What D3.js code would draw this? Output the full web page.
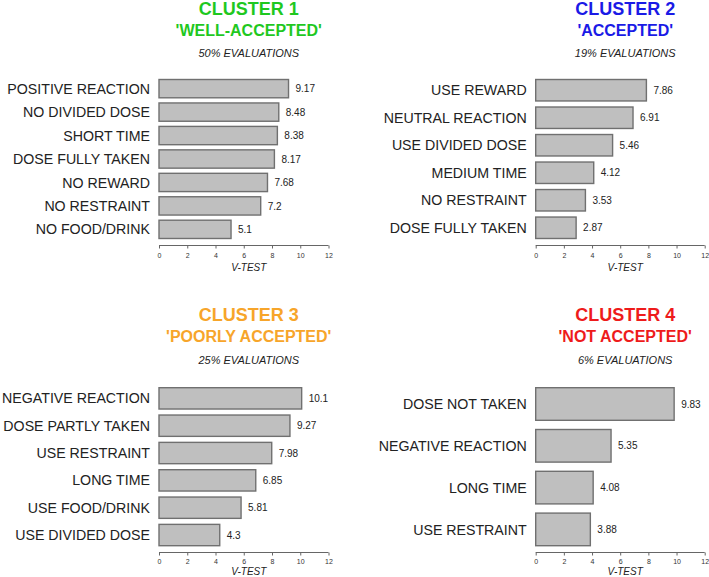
<!DOCTYPE html>
<html>
<head>
<meta charset="utf-8">
<script src="https://cdn.jsdelivr.net/npm/d3@7"></script>
<style>
  html, body { margin: 0; padding: 0; background: #fff; }
  svg { display: block; }
  text { font-family: "Liberation Sans", Arial, sans-serif; }
</style>
</head>
<body>
<svg id="chart" width="709" height="577"></svg>
<script>
// ---------- data ----------
const cluster1Labels = ["POSITIVE REACTION", "NO DIVIDED DOSE", "SHORT TIME", "DOSE FULLY TAKEN", "NO REWARD", "NO RESTRAINT", "NO FOOD/DRINK"];
const cluster1Values = [9.17, 8.48, 8.38, 8.17, 7.68, 7.2, 5.1];
const cluster1Valtxt = ["9.17", "8.48", "8.38", "8.17", "7.68", "7.2", "5.1"];

const cluster2Labels = ["USE REWARD", "NEUTRAL REACTION", "USE DIVIDED DOSE", "MEDIUM TIME", "NO RESTRAINT", "DOSE FULLY TAKEN"];
const cluster2Values = [7.86, 6.91, 5.46, 4.12, 3.53, 2.87];
const cluster2Valtxt = ["7.86", "6.91", "5.46", "4.12", "3.53", "2.87"];

const cluster3Labels = ["NEGATIVE REACTION", "DOSE PARTLY TAKEN", "USE RESTRAINT", "LONG TIME", "USE FOOD/DRINK", "USE DIVIDED DOSE"];
const cluster3Values = [10.1, 9.27, 7.98, 6.85, 5.81, 4.3];
const cluster3Valtxt = ["10.1", "9.27", "7.98", "6.85", "5.81", "4.3"];

const cluster4Labels = ["DOSE NOT TAKEN", "NEGATIVE REACTION", "LONG TIME", "USE RESTRAINT"];
const cluster4Values = [9.83, 5.35, 4.08, 3.88];
const cluster4Valtxt = ["9.83", "5.35", "4.08", "3.88"];

const clusterTitles = ["CLUSTER 1", "CLUSTER 2", "CLUSTER 3", "CLUSTER 4"];
const clusterNames = ["'WELL-ACCEPTED'", "'ACCEPTED'", "'POORLY ACCEPTED'", "'NOT ACCEPTED'"];
const clusterShares = ["50% EVALUATIONS", "19% EVALUATIONS", "25% EVALUATIONS", "6% EVALUATIONS"];
const clusterColors = ["#1fc81f", "#1a1ae6", "#f7a52a", "#ee1b1b"];
const axisTicks = [0, 2, 4, 6, 8, 10, 12];
const axisTitle = "V-TEST";

// ---------- layout ----------
const columns = [{x0: 159, x1: 328.5}, {x0: 535.7, x1: 704.7}];
const rows = [
  {t1: 14.5, t2: 35.5, t3: 57, barTop: 79.5, barBot: 238.5, axisY: 245.5, tickY: 258, vY: 270.5},
  {t1: 321, t2: 342, t3: 364, barTop: 387.7, barBot: 545.7, axisY: 552.5, tickY: 563.5, vY: 574.5}
];

const panels = [
  {labels: cluster1Labels, values: cluster1Values, valtxt: cluster1Valtxt, col: 0, row: 0, i: 0},
  {labels: cluster2Labels, values: cluster2Values, valtxt: cluster2Valtxt, col: 1, row: 0, i: 1},
  {labels: cluster3Labels, values: cluster3Values, valtxt: cluster3Valtxt, col: 0, row: 1, i: 2},
  {labels: cluster4Labels, values: cluster4Values, valtxt: cluster4Valtxt, col: 1, row: 1, i: 3}
];

const svg = d3.select("#chart");
const textColor = "#222";

panels.forEach(p => {
  const c = columns[p.col], r = rows[p.row];
  const g = svg.append("g");
  const x = d3.scaleLinear().domain([0, 12]).range([c.x0, c.x1]);
  const y = d3.scaleBand().domain(p.labels).range([r.barTop, r.barBot]).paddingInner(0.22).paddingOuter(0);
  const cx = (c.x0 + c.x1) / 2 + 5;

  // titles
  g.append("text").attr("x", cx).attr("y", r.t1).attr("text-anchor", "middle")
    .attr("font-size", 18).attr("font-weight", "bold").attr("fill", clusterColors[p.i]).text(clusterTitles[p.i]);
  g.append("text").attr("x", cx).attr("y", r.t2).attr("text-anchor", "middle")
    .attr("font-size", 16).attr("font-weight", "bold").attr("fill", clusterColors[p.i]).text(clusterNames[p.i]);
  g.append("text").attr("x", cx).attr("y", r.t3).attr("text-anchor", "middle")
    .attr("font-size", 11).attr("font-style", "italic").attr("fill", textColor).text(clusterShares[p.i]);

  // bars
  g.selectAll("rect.bar").data(p.values).enter().append("rect")
    .attr("class", "bar")
    .attr("x", x(0))
    .attr("y", (d, k) => y(p.labels[k]))
    .attr("width", d => x(d) - x(0))
    .attr("height", y.bandwidth())
    .attr("fill", "#bfbfbf")
    .attr("stroke", "#707070")
    .attr("stroke-width", 1.4);

  // category labels
  g.selectAll("text.cat").data(p.labels).enter().append("text")
    .attr("class", "cat")
    .attr("x", x(0) - 9)
    .attr("y", d => y(d) + y.bandwidth() / 2)
    .attr("dy", "0.36em")
    .attr("text-anchor", "end")
    .attr("font-size", 14.2)
    .attr("fill", textColor)
    .text(d => d);

  // value labels
  g.selectAll("text.val").data(p.values).enter().append("text")
    .attr("class", "val")
    .attr("x", d => x(d) + 7)
    .attr("y", (d, k) => y(p.labels[k]) + y.bandwidth() / 2)
    .attr("dy", "0.36em")
    .attr("font-size", 10)
    .attr("fill", textColor)
    .text((d, k) => p.valtxt[k]);

  // axis
  const axis = d3.axisBottom(x).tickValues(axisTicks).tickSize(3).tickPadding(2).tickFormat(d3.format("d"));
  const ag = g.append("g").attr("transform", `translate(0,${r.axisY})`).call(axis);
  ag.select(".domain").attr("stroke", "#666").attr("d", `M${x(0)},0H${x(12)}`);
  ag.selectAll(".tick line").attr("stroke", "#666").attr("y1", 0).attr("y2", 3);
  ag.selectAll(".tick text").attr("font-size", 7).attr("fill", "#333")
    .attr("font-family", "'Liberation Sans', Arial, sans-serif")
    .attr("y", null).attr("dy", null)
    .attr("transform", `translate(0,${r.tickY - r.axisY})`);

  g.append("text").attr("x", cx).attr("y", r.vY).attr("text-anchor", "middle")
    .attr("font-size", 10).attr("font-style", "italic").attr("fill", textColor).text(axisTitle);
});
</script>
</body>
</html>
